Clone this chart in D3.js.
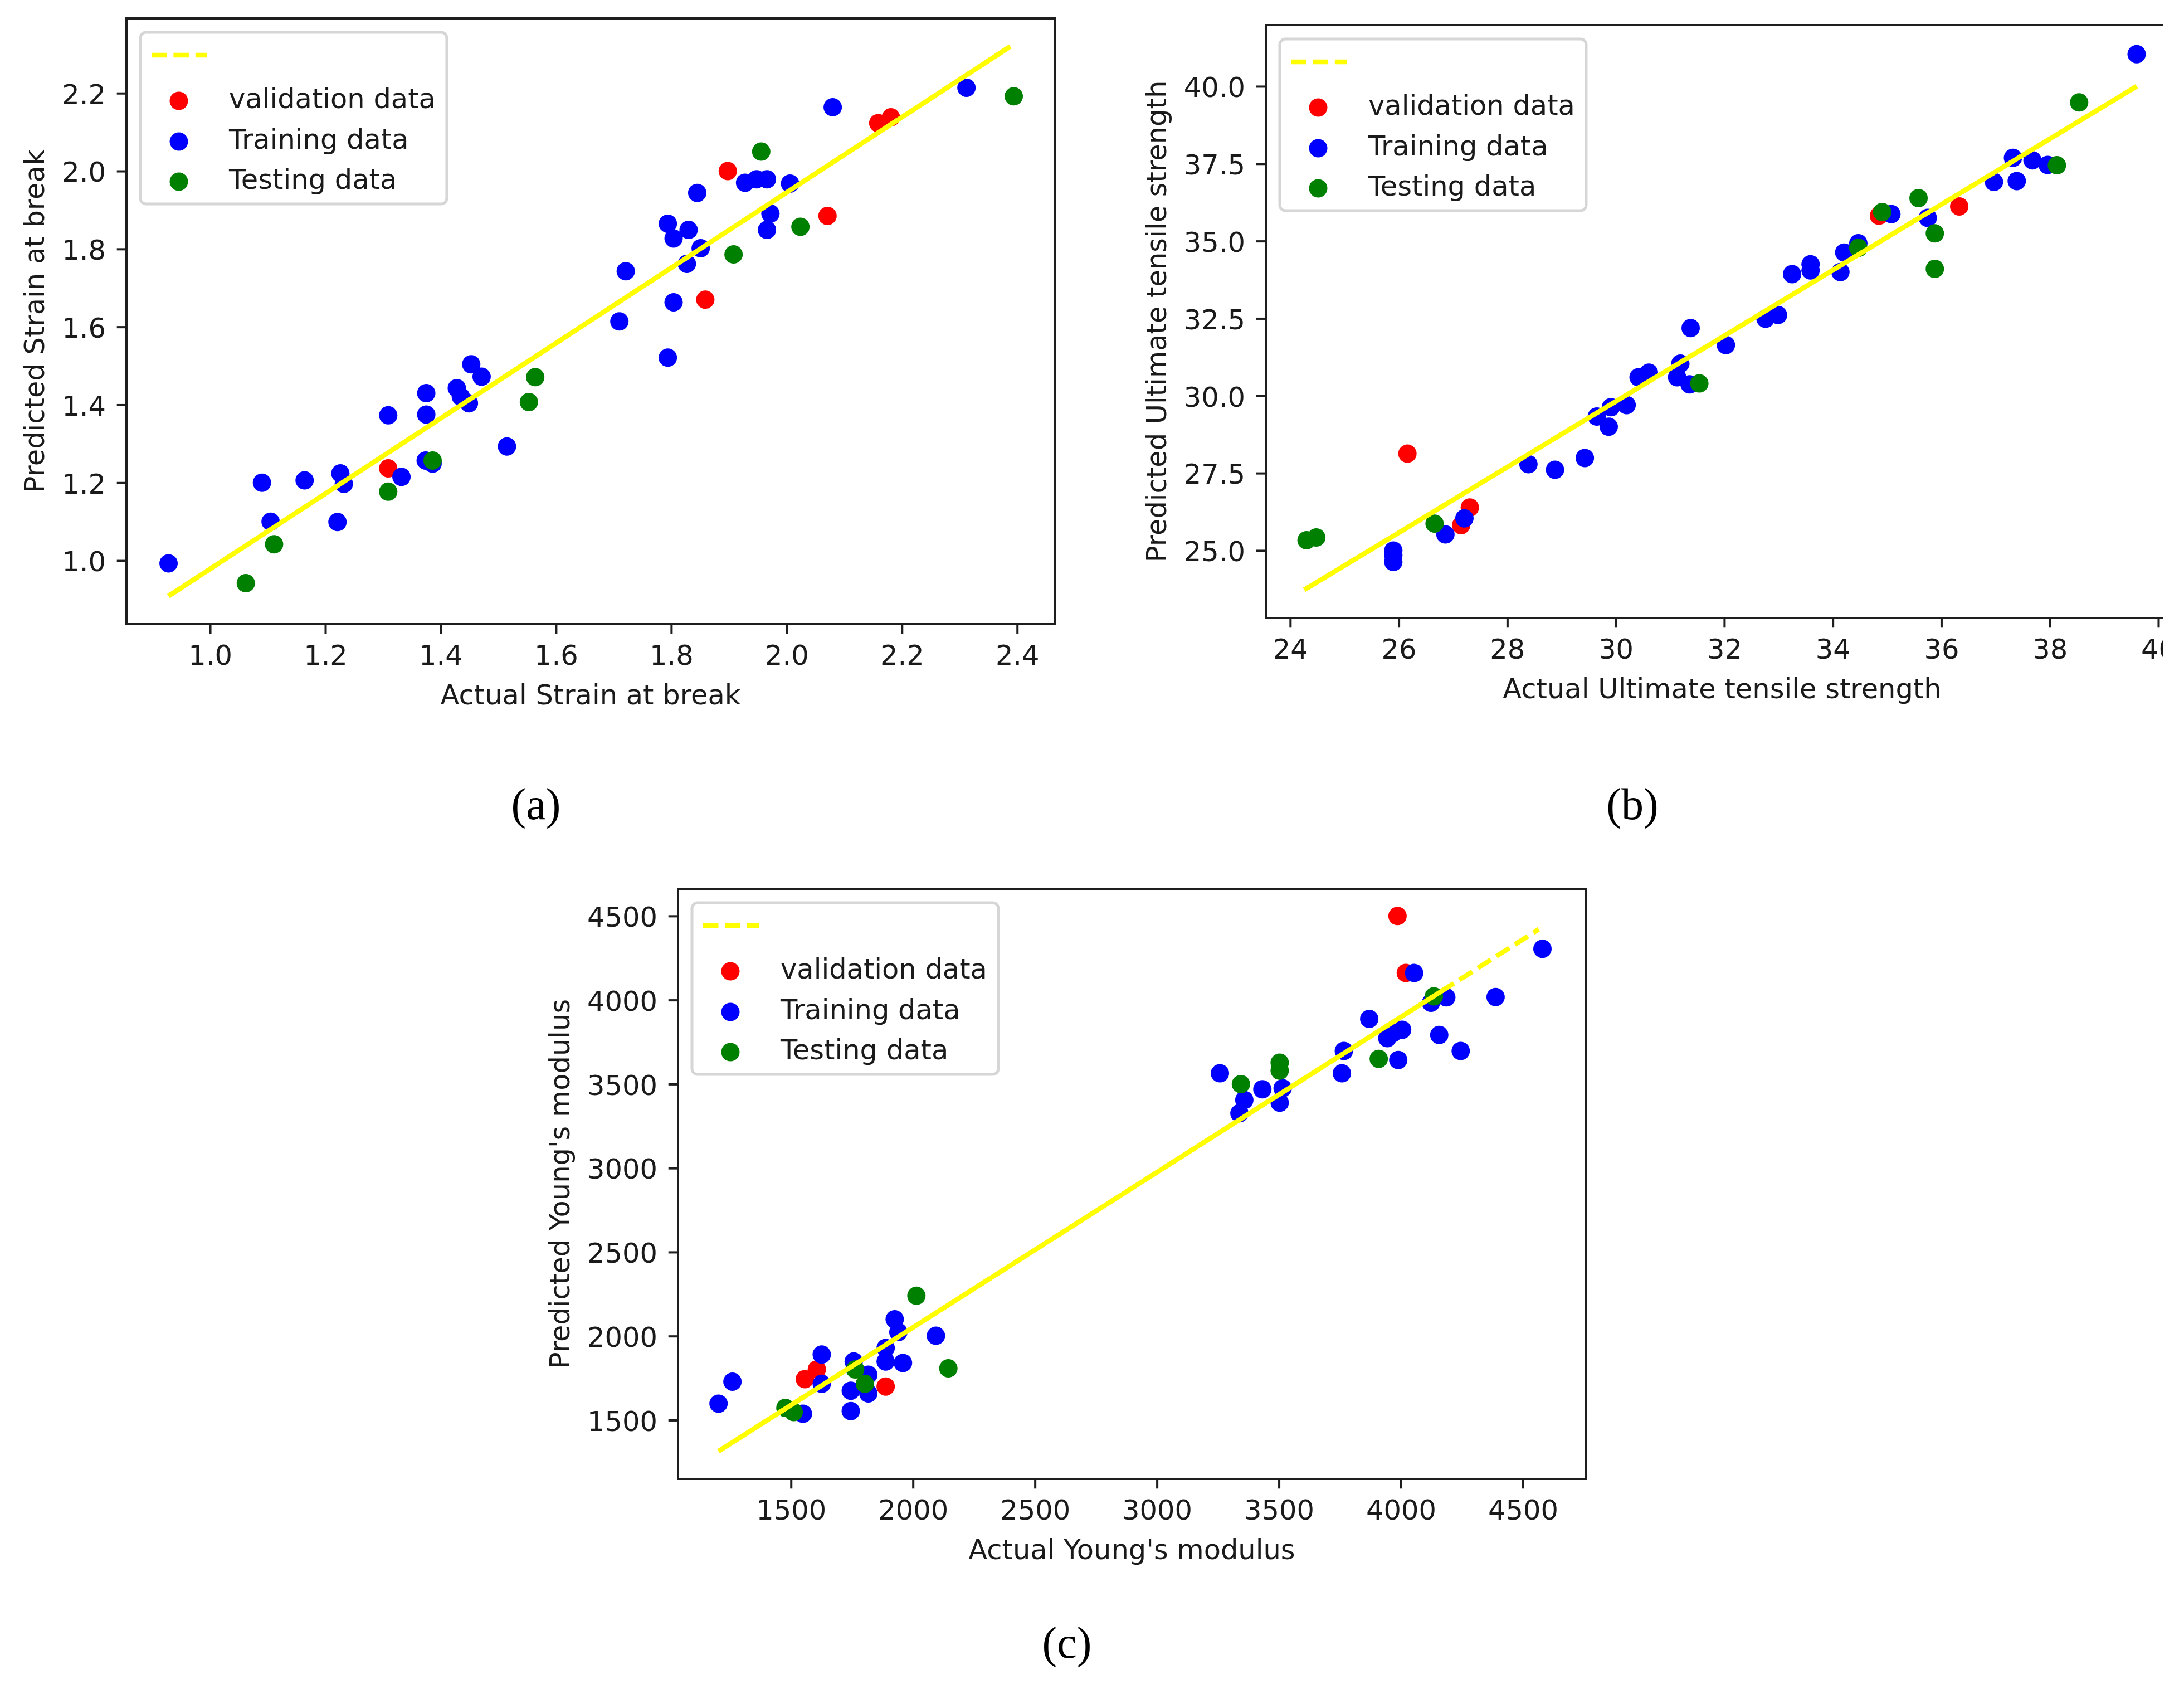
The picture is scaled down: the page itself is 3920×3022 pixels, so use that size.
<!DOCTYPE html>
<html>
<head>
<meta charset="utf-8">
<script src="https://cdn.jsdelivr.net/npm/d3@7"></script>
<style>
body { margin: 0; background: #fff; }
svg { display: block; }
</style>
</head>
<body>
<svg id="fig" width="3920" height="3022"></svg>
<script>
// (a) strain at break: [actual, predicted]
var strainValidation = [[1.309,1.237],[1.859,1.670],[1.898,2.000],[2.071,1.885],[2.159,2.123],[2.181,2.138]];
var strainTraining = [[0.928,0.993],[1.090,1.200],[1.105,1.100],[1.164,1.206],[1.226,1.224],[1.232,1.197],[1.221,1.099],
	[1.309,1.373],[1.332,1.215],[1.375,1.430],[1.375,1.375],[1.374,1.257],[1.386,1.249],[1.428,1.443],[1.435,1.421],
	[1.453,1.504],[1.471,1.472],[1.449,1.404],[1.515,1.293],[1.710,1.614],[1.721,1.743],[1.794,1.865],[1.804,1.827],
	[1.804,1.663],[1.794,1.521],[1.830,1.849],[1.827,1.762],[1.845,1.944],[1.851,1.802],[1.928,1.970],[1.948,1.979],
	[1.966,1.979],[2.006,1.968],[1.972,1.891],[1.966,1.849],[2.080,2.164],[2.312,2.214]];
var strainTesting = [[1.062,0.942],[1.111,1.042],[1.309,1.177],[1.386,1.257],[1.553,1.407],[1.564,1.471],
	[1.908,1.786],[1.956,2.050],[2.024,1.857],[2.394,2.192]];
var strainFit = [[0.928,0.909],[2.388,2.320]];
var strainXTicks = [1.0,1.2,1.4,1.6,1.8,2.0,2.2,2.4];
var strainYTicks = [1.0,1.2,1.4,1.6,1.8,2.0,2.2];

// (b) ultimate tensile strength
var utsValidation = [[26.16,28.13],[27.15,25.82],[27.31,26.39],[34.85,35.82],[36.33,36.12]];
var utsTraining = [[25.90,24.85],[25.90,24.63],[25.90,25.00],[26.86,25.52],[27.21,26.04],[28.39,27.79],[28.88,27.61],
	[29.43,27.99],[29.65,29.33],[29.87,29.00],[29.91,29.63],[30.20,29.70],[30.42,30.60],[30.61,30.75],[31.13,30.60],
	[31.19,31.04],[31.36,30.37],[31.38,32.19],[32.03,31.64],[32.76,32.49],[32.99,32.61],[33.25,33.93],[33.59,34.25],
	[33.59,34.05],[34.14,34.00],[34.21,34.63],[34.47,34.93],[35.08,35.87],[35.75,35.75],[36.97,36.91],[37.32,37.69],
	[37.39,36.94],[37.68,37.61],[37.96,37.46],[39.60,41.04]];
var utsTesting = [[24.30,25.33],[24.48,25.42],[26.66,25.87],[31.54,30.40],[34.47,34.78],[34.91,35.94],[35.58,36.39],
	[35.88,35.25],[35.88,34.10],[38.13,37.45],[38.54,39.48]];
var utsFit = [[24.26,23.73],[39.60,40.00]];
var utsXTicks = [24,26,28,30,32,34,36,38,40];
var utsYTicks = [25.0,27.5,30.0,32.5,35.0,37.5,40.0];

// (c) Young's modulus
var youngValidation = [[1557,1744],[1606,1802],[1888,1700],[3986,4500],[4020,4161]];
var youngTraining = [[1203,1598],[1260,1729],[1549,1538],[1626,1890],[1626,1716],[1745,1554],[1745,1675],[1757,1849],
	[1817,1659],[1817,1770],[1888,1849],[1888,1929],[1925,2100],[1940,2024],[1959,1840],[2094,2002],[3258,3564],
	[3338,3326],[3358,3405],[3432,3469],[3503,3389],[3515,3475],[3758,3564],[3766,3697],[3870,3888],[3944,3773],
	[3966,3802],[3989,3643],[4005,3823],[4054,4161],[4123,3984],[4157,3792],[4186,4016],[4245,3697],[4388,4018],
	[4580,4305]];
var youngTesting = [[1477,1573],[1511,1548],[1763,1802],[1803,1716],[2014,2240],[2145,1808],[3344,3500],[3503,3627],
	[3503,3580],[3909,3650],[4135,4022]];
var youngFit = [[1203,1315],[4565,4421]];
var youngFitSolid = [[1203,1315],[4200,4084]];
var youngTicks = [1500,2000,2500,3000,3500,4000,4500];

var legendLabels = ["validation data", "Training data", "Testing data"];
var colors = ["#ff0000", "#0000ff", "#008000"];

var svg = d3.select("#fig");
svg.append("rect").attr("width", 3920).attr("height", 3022).attr("fill", "#fff");
var defs = svg.append("defs");

var FS = 49.5;
var LW = 8.5;

function panel(p)
{
	var g = svg.append("g").attr("font-family", "'DejaVu Sans', sans-serif");
	if (p.clipRight) {
		defs.append("clipPath").attr("id", p.id + "clip")
			.append("rect").attr("x", 0).attr("y", 0).attr("width", p.clipRight).attr("height", 3022);
		g.attr("clip-path", "url(#" + p.id + "clip)");
	}
	var x = d3.scaleLinear().domain(p.xDomain).range([p.left, p.right]);
	var y = d3.scaleLinear().domain(p.yDomain).range([p.bottom, p.top]);

	[p.val, p.train, p.test].forEach(function(set, i) {
		g.append("g").selectAll("circle").data(set).join("circle")
			.attr("cx", function(d) { return x(d[0]) })
			.attr("cy", function(d) { return y(d[1]) })
			.attr("r", 16.5)
			.attr("fill", colors[i]);
	});

	var line = d3.line().x(function(d) { return x(d[0]) }).y(function(d) { return y(d[1]) });
	g.append("path").attr("d", line(p.fit))
		.attr("fill", "none").attr("stroke", "#ffff00").attr("stroke-width", LW)
		.attr("stroke-dasharray", "27.5,11.9");
	g.append("path").attr("d", line(p.fitSolid))
		.attr("fill", "none").attr("stroke", "#ffff00").attr("stroke-width", LW);

	g.append("rect")
		.attr("x", p.left).attr("y", p.top)
		.attr("width", p.right - p.left).attr("height", p.bottom - p.top)
		.attr("fill", "none").attr("stroke", "#1e1e1e").attr("stroke-width", 4);

	var xa = g.append("g").attr("transform", "translate(0," + p.bottom + ")")
		.call(d3.axisBottom(x).tickValues(p.xTicks).tickFormat(p.xFmt)
			.tickSizeInner(17.3).tickSizeOuter(0).tickPadding(20.7));
	var ya = g.append("g").attr("transform", "translate(" + p.left + ",0)")
		.call(d3.axisLeft(y).tickValues(p.yTicks).tickFormat(p.yFmt)
			.tickSizeInner(17.3).tickSizeOuter(0).tickPadding(19.7));
	[xa, ya].forEach(function(a) {
		a.attr("font-size", FS).attr("font-family", "'DejaVu Sans', sans-serif");
		a.select(".domain").remove();
		a.selectAll("line").attr("stroke", "#1e1e1e").attr("stroke-width", 4);
		a.selectAll("text").attr("fill", "#1a1a1a");
	});
	ya.selectAll("text").attr("dy", "0.38em");

	var bb = ya.node().getBBox();
	var labX = p.left + bb.x - 32;
	g.append("text")
		.attr("transform", "translate(" + labX + "," + ((p.top + p.bottom) / 2) + ") rotate(-90)")
		.attr("text-anchor", "middle").attr("font-size", FS).attr("fill", "#1a1a1a")
		.text(p.ylabel);
	g.append("text")
		.attr("x", (p.left + p.right) / 2).attr("y", p.bottom + 144)
		.attr("text-anchor", "middle").attr("font-size", FS).attr("fill", "#1a1a1a")
		.text(p.xlabel);

	// legend
	var lg = g.append("g").attr("transform", "translate(" + (p.left + 25) + "," + (p.top + 25) + ")");
	var box = lg.append("rect").attr("rx", 10).attr("ry", 10).attr("height", 308)
		.attr("fill", "#fff").attr("fill-opacity", 0.8)
		.attr("stroke", "#d6d6d6").attr("stroke-width", 5);
	var rows = [41, 123, 196, 268];
	lg.append("line").attr("x1", 20).attr("x2", 120).attr("y1", rows[0]).attr("y2", rows[0])
		.attr("stroke", "#ffff00").attr("stroke-width", LW).attr("stroke-dasharray", "27.5,11.9");
	var tw = 0;
	legendLabels.forEach(function(lab, i) {
		lg.append("circle").attr("cx", 69).attr("cy", rows[i + 1]).attr("r", 16.5).attr("fill", colors[i]);
		var t = lg.append("text").attr("x", 159).attr("y", rows[i + 1] + 13)
			.attr("font-size", FS).attr("fill", "#1a1a1a").text(lab);
		tw = Math.max(tw, t.node().getComputedTextLength());
	});
	box.attr("width", 159 + tw + 20);

	svg.append("text").attr("x", p.capX).attr("y", p.capY)
		.attr("text-anchor", "middle").attr("font-family", "'Liberation Serif', serif")
		.attr("font-size", 80).attr("fill", "#000").text(p.caption);
}

var f1 = d3.format(".1f"), f0 = d3.format("d");

panel({ id: "a", left: 227, right: 1893, top: 33, bottom: 1120,
	xDomain: [0.855, 2.465], yDomain: [0.837, 2.392],
	xTicks: strainXTicks, yTicks: strainYTicks, xFmt: f1, yFmt: f1,
	val: strainValidation, train: strainTraining, test: strainTesting,
	fit: strainFit, fitSolid: strainFit,
	xlabel: "Actual Strain at break", ylabel: "Predicted Strain at break",
	caption: "(a)", capX: 962, capY: 1470 });

panel({ id: "b", left: 2272, right: 3910, top: 45, bottom: 1109, clipRight: 3883,
	xDomain: [23.55, 40.37], yDomain: [22.82, 41.98],
	xTicks: utsXTicks, yTicks: utsYTicks, xFmt: f0, yFmt: f1,
	val: utsValidation, train: utsTraining, test: utsTesting,
	fit: utsFit, fitSolid: utsFit,
	xlabel: "Actual Ultimate tensile strength", ylabel: "Predicted Ultimate tensile strength",
	caption: "(b)", capX: 2930, capY: 1470 });

panel({ id: "c", left: 1217, right: 2846, top: 1595, bottom: 2654,
	xDomain: [1037, 4757], yDomain: [1150, 4662],
	xTicks: youngTicks, yTicks: youngTicks, xFmt: f0, yFmt: f0,
	val: youngValidation, train: youngTraining, test: youngTesting,
	fit: youngFit, fitSolid: youngFitSolid,
	xlabel: "Actual Young's modulus", ylabel: "Predicted Young's modulus",
	caption: "(c)", capX: 1915, capY: 2975 });
</script>
</body>
</html>
